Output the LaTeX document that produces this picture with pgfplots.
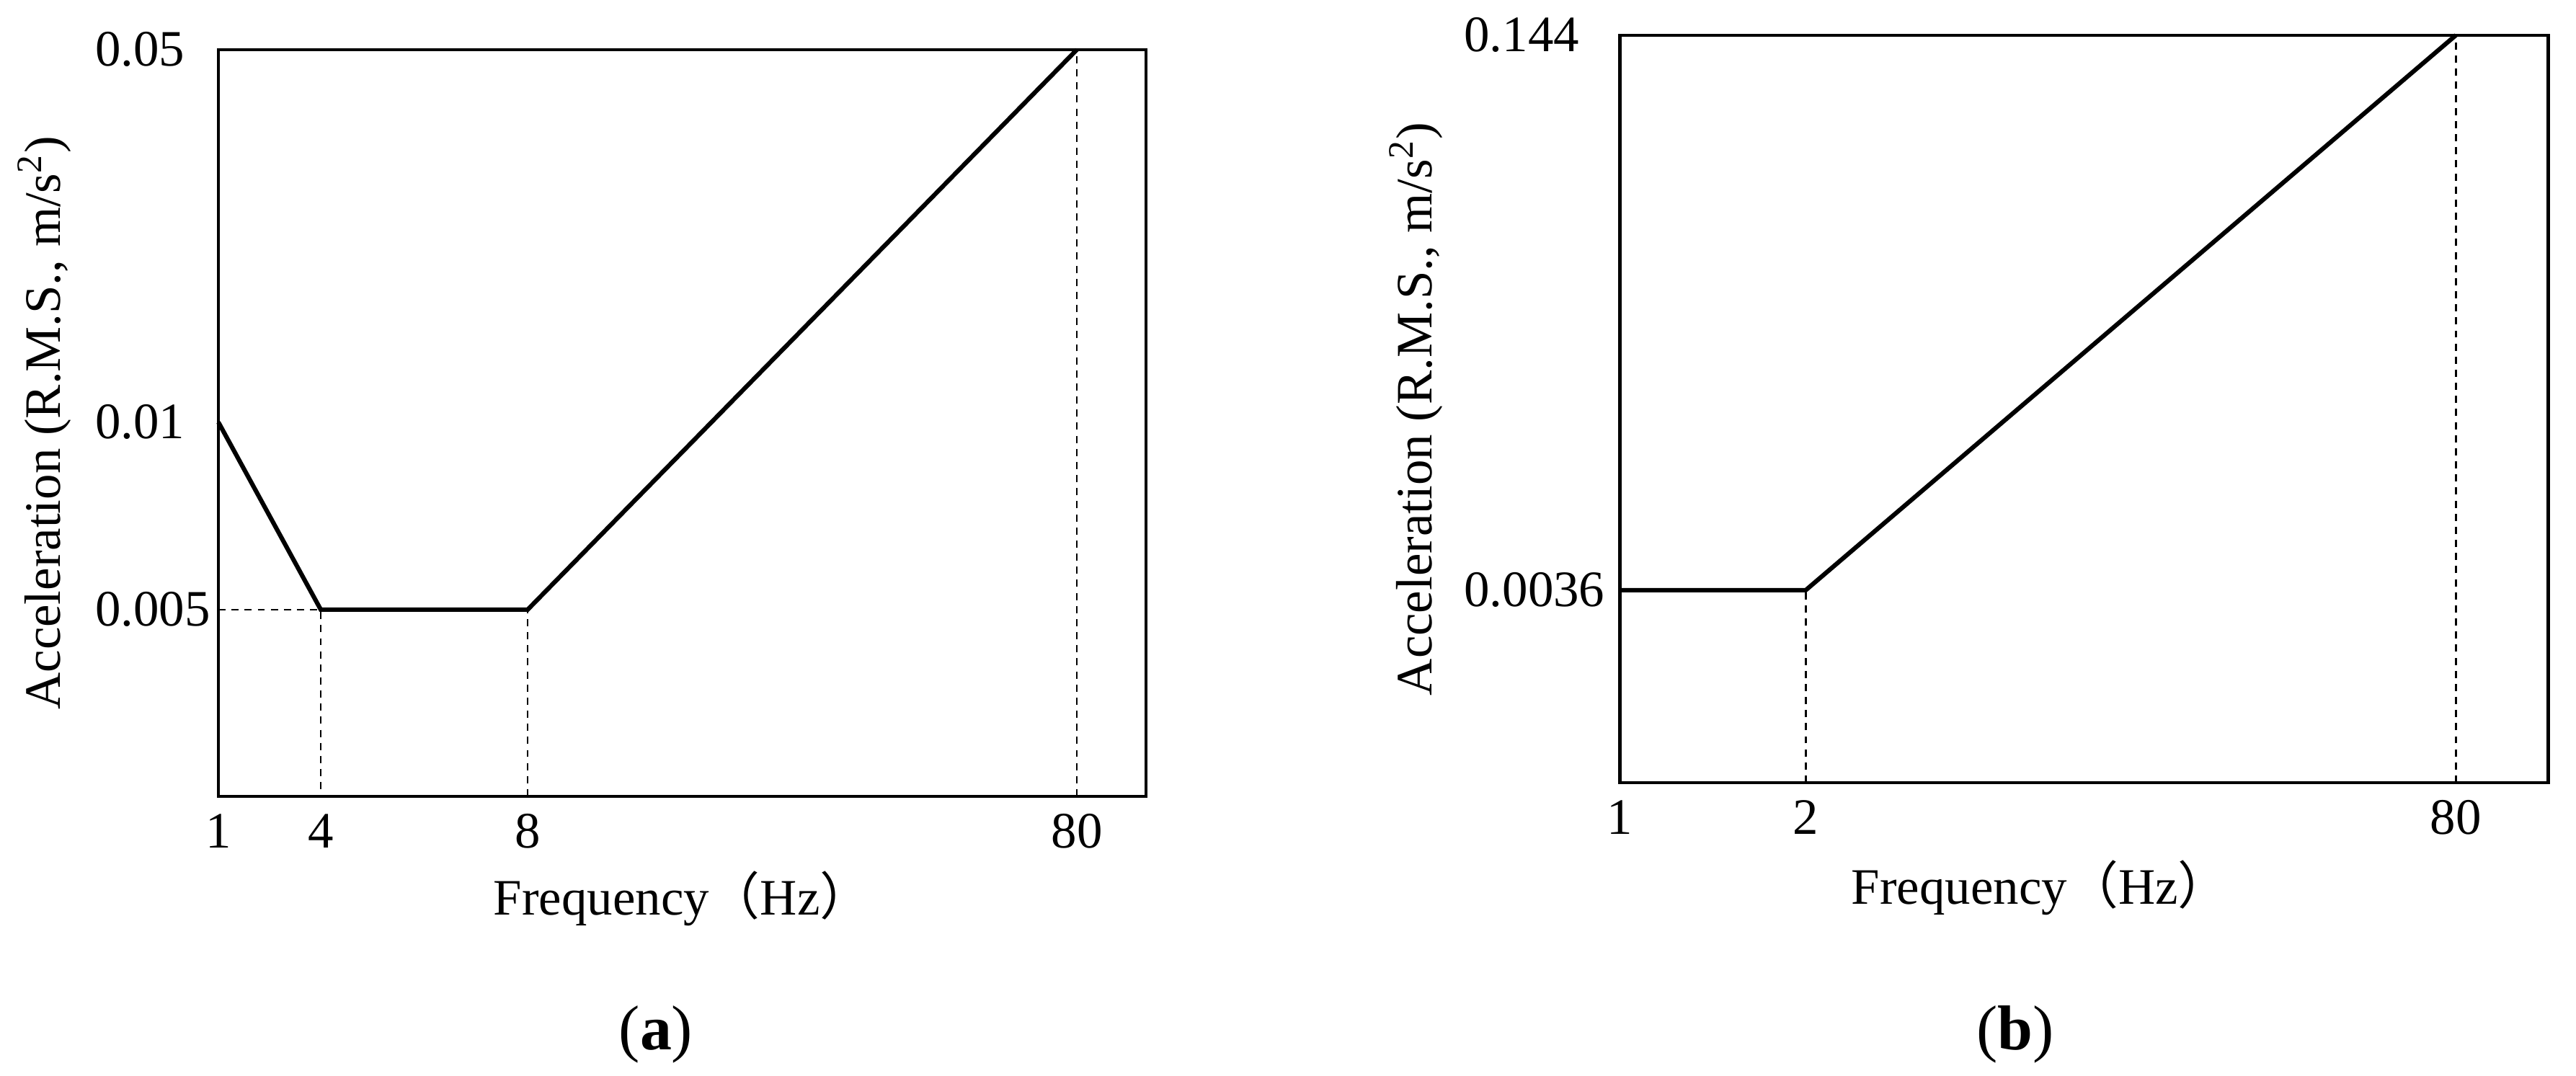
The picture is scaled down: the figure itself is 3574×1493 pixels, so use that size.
\documentclass[border=0pt]{standalone}
\usepackage{fontspec}
\setmainfont{Liberation Serif}
\newfontfamily\cjk{Noto Sans CJK SC}
\usepackage{pgfplots}
\pgfplotsset{compat=1.18}

% schematic axes: positions are laid out by hand, labels carry the real values
\pgfplotsset{
  sch/.style={
    scale only axis, anchor=south west,
    axis line style={line width=0.77pt},
    major tick length=0pt,
    clip=false,
    xmin=0, ymin=0,
    /pgf/number format/assume math mode=true,
    tick label style={font=\fontsize{12.1}{14}\selectfont, inner sep=0pt},
    label style={font=\fontsize{12.1}{14}\selectfont},
    xticklabel style={anchor=north, yshift=-1.4mm},
    yticklabel style={anchor=west},
  },
  dline/.style={black, line width=0.45pt, dash pattern=on 1.7pt off 1.4pt},
  sline/.style={black, line width=1.05pt},
}

\begin{document}
\begin{tikzpicture}[x=0.06mm, y=0.06mm]
\useasboundingbox (0,0) rectangle (3574,1493);

% ---------------- (a) ----------------
\begin{axis}[sch,
  at={(18.18mm,23.28mm)},
  width=77.22mm, height=62.16mm,
  xmax=1287, ymax=1036,
  xtick={0,142,429,1191}, xticklabels={1,4,8,80},
  ytick={259,519,1036}, yticklabels={0.005,0.01,0.05},
  yticklabel style={xshift=-10.32mm},
  xlabel={Frequency{\cjk （}Hz{\cjk ）}},
  xlabel style={at={(axis description cs:0.5,-0.1593)}, anchor=base},
  ylabel={Acceleration (R.M.S., m/s\textsuperscript{2})},
  ylabel style={at={(axis description cs:-0.1709,0.5)}, anchor=base},
]
\addplot[dline] coordinates {(0,259) (142,259) (142,0)};
\addplot[dline] coordinates {(429,0) (429,259)};
\addplot[dline] coordinates {(1191,0) (1191,1036)};
\addplot[sline] coordinates {(0,519) (142,259) (429,259) (1191,1036)};
\end{axis}

% ---------------- (b) ----------------
\begin{axis}[sch,
  at={(134.82mm,24.42mm)},
  width=77.28mm, height=62.22mm,
  xmax=1288, ymax=1037,
  xtick={0,258,1160}, xticklabels={1,2,80},
  ytick={267,1037}, yticklabels={0.0036,0.144},
  yticklabel style={xshift=-13.02mm},
  xlabel={Frequency{\cjk （}Hz{\cjk ）}},
  xlabel style={at={(axis description cs:0.453,-0.163)}, anchor=base},
  ylabel={Acceleration (R.M.S., m/s\textsuperscript{2})},
  ylabel style={at={(axis description cs:-0.2026,0.5)}, anchor=base},
]
\addplot[dline] coordinates {(258,0) (258,267)};
\addplot[dline] coordinates {(1160,0) (1160,1037)};
\addplot[sline] coordinates {(0,267) (258,267) (1160,1037)};
\end{axis}

\node[font=\fontsize{15}{18}\selectfont, anchor=base] at (910,36) {(\textbf{a})};
\node[font=\fontsize{15}{18}\selectfont, anchor=base] at (2796,36) {(\textbf{b})};
\end{tikzpicture}
\end{document}
